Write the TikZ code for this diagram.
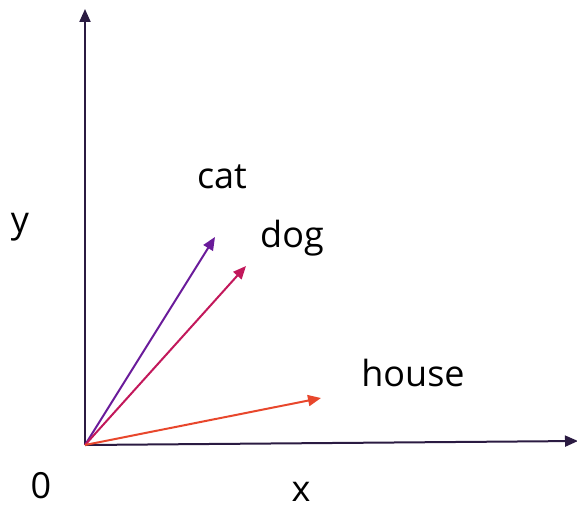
\documentclass[tikz,border=0pt]{standalone}
\usepackage{fontspec}
\setmainfont{Open Sans}
\usetikzlibrary{arrows.meta}
\definecolor{axiscol}{HTML}{2B1B42}
\definecolor{catcol}{HTML}{6A1B9A}
\definecolor{dogcol}{HTML}{C2185B}
\definecolor{housecol}{HTML}{E8472C}
\begin{document}
\begin{tikzpicture}[x=1pt,y=-1pt,
  axis/.style={draw=axiscol,line width=2pt,-{Triangle[length=13pt,width=11pt]}},
  vec/.style={line width=2pt,-{Triangle[length=13pt,width=11pt]}},
  lbl/.style={font=\fontsize{36}{40}\selectfont,text=black,inner sep=0pt}]
\useasboundingbox (0,0) rectangle (577,511);
\coordinate (o) at (85,445);
\coordinate (ytip) at (85,9);
\coordinate (xtip) at (578,441);
\coordinate (cattip) at (215,237);
\coordinate (dogtip) at (246,266);
\coordinate (housetip) at (321,398);
\draw[axis] (o) -- (ytip);
\draw[axis] (o) -- (xtip);
\draw[vec,draw=catcol,fill=catcol] (o) -- (cattip);
\draw[vec,draw=dogcol,fill=dogcol] (o) -- (dogtip);
\draw[vec,draw=housecol,fill=housecol] (o) -- (housetip);
\node[lbl] (cat) at (222,177) {cat};
\node[lbl] (dog) at (292,238) {dog};
\node[lbl] (house) at (413,373) {house};
\node[lbl] (y) at (20,227) {y};
\node[lbl] (zero) at (41,486) {0};
\node[lbl] (x) at (301,492) {x};
\end{tikzpicture}
\end{document}
